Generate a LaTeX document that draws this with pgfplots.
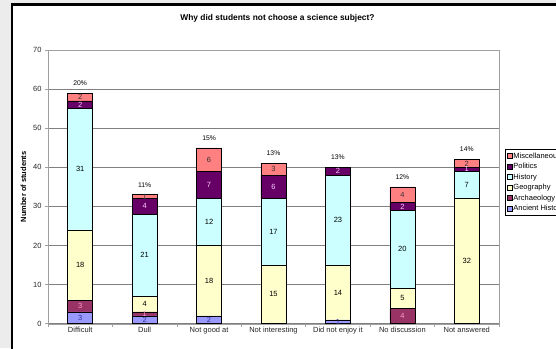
\documentclass[border=0pt]{standalone}
\usepackage{fontspec}
\setmainfont{Liberation Sans}
\usepackage{pgfplots}
\usepackage{pgfplotstable}
\pgfplotsset{compat=1.18}
\definecolor{cAnc}{HTML}{9999FF}
\definecolor{cArch}{HTML}{993366}
\definecolor{cGeo}{HTML}{FFFFCC}
\definecolor{cHist}{HTML}{CCFFFF}
\definecolor{cPol}{HTML}{660066}
\definecolor{cMisc}{HTML}{FF8080}
\definecolor{bgc}{HTML}{ECECEC}
\definecolor{gridc}{HTML}{808080}
\definecolor{axc}{HTML}{A0A0A0}
\definecolor{lAnc}{HTML}{333399}
\definecolor{lArch}{HTML}{FF99CC}
\definecolor{lPol}{HTML}{FFCCFF}
\newcommand\sm{\fontsize{7.5}{9}\selectfont}
\newcommand\tn{\fontsize{6.8}{8}\selectfont}

\pgfplotstableread{
x anc arch geo hist pol misc
0 3 3 18 31 2 2
1 2 1 4 21 4 1
2 2 0 18 12 7 6
3 0 0 15 17 6 3
4 1 0 14 23 2 0
5 0 4 5 20 2 4
6 0 0 32 7 1 2
}\data

\pgfplotsset{
  geom/.style={
    width=451pt, height=273.7pt, scale only axis,
    at={(48pt,24.3pt)}, anchor=south west,
    xmin=-0.5, xmax=6.5, ymin=0, ymax=70, clip=false,
  },
  lbl/.style={draw=none, mark=none, nodes near coords, point meta=explicit symbolic,
    nodes near coords style={anchor=center, font=\sm, text=#1}},
}

\begin{document}
\begin{tikzpicture}[x=1pt,y=1pt]
\clip (0,0) rectangle (556,348);
\fill[bgc] (0,0) rectangle (556,348);
\filldraw[fill=white,draw=black,line width=2.4pt] (12.2,-20) rectangle (600,343.5);
\node[font=\bfseries\fontsize{8.4}{10}\selectfont] at (277.5,330) {Why did students not choose a science subject?};

\begin{axis}[geom,
  ybar stacked, bar width=25pt,
  axis line style={axc},
  ytick={0,10,...,70},
  ymajorgrids, grid style={gridc, line width=0.6pt},
  xtick={-0.5,0.5,...,6.5}, xticklabels={},
  extra x ticks={0,1,2,3,4,5,6},
  extra x tick labels={Difficult,Dull,Not good at,Not interesting,Did not enjoy it,No discussion,Not answered},
  extra x tick style={major tick length=0pt, grid=none},
  xtick pos=bottom, ytick pos=left,
  tick align=outside, major tick length=3pt,
  tick style={axc, line width=0.6pt},
  tick label style={font=\sm, text=black!85},
  /pgf/number format/assume math mode=true,
  ylabel={\bfseries Number of students},
  ylabel style={font=\sm},
  reverse legend,
  legend style={at={(1.0133,0.6383)}, anchor=north west, draw=black, line width=0.5pt,
    font=\sm, inner sep=1.5pt, row sep=0pt,
    nodes={inner sep=1pt, text height=6.5pt, text depth=2pt}},
  legend cell align=left,
  legend image code/.code={\draw[#1, draw=black, line width=0.5pt] (0pt,-2.6pt) rectangle (5.2pt,2.6pt);},
]
\addplot[fill=cAnc, draw=black, line width=0.5pt] table[x=x,y=anc]{\data};
\addplot[fill=cArch, draw=black, line width=0.5pt] table[x=x,y=arch]{\data};
\addplot[fill=cGeo, draw=black, line width=0.5pt] table[x=x,y=geo]{\data};
\addplot[fill=cHist, draw=black, line width=0.5pt] table[x=x,y=hist]{\data};
\addplot[fill=cPol, draw=black, line width=0.5pt] table[x=x,y=pol]{\data};
\addplot[fill=cMisc, draw=black, line width=0.5pt] table[x=x,y=misc]{\data};
\legend{Ancient History,Archaeology,Geography,History,Politics,Miscellaneous}
\end{axis}

\begin{axis}[geom, hide axis]
\addplot[lbl=black] coordinates {(0,15)[18] (1,5)[4] (2,11)[18] (3,7.5)[15] (4,8)[14] (5,6.5)[5] (6,16)[32]};
\addplot[lbl=black] coordinates {(0,39.5)[31] (1,17.5)[21] (2,26)[12] (3,23.5)[17] (4,26.5)[23] (5,19)[20] (6,35.5)[7]};
\addplot[lbl=black!80] coordinates {(0,58)[2] (1,32.5)[1] (2,42)[6] (3,39.5)[3] (5,33)[4] (6,41)[2]};
\addplot[lbl=lAnc] coordinates {(0,1.5)[3] (1,1)[2] (2,1)[2] (4,0.5)[1]};
\addplot[lbl=lArch] coordinates {(0,4.5)[3] (1,2.5)[1] (5,2)[4]};
\addplot[lbl=lPol] coordinates {(0,56)[2] (1,30)[4] (2,35.5)[7] (3,35)[6] (4,39)[2] (5,30)[2] (6,39.5)[1]};
\addplot[draw=none, mark=none, nodes near coords, point meta=explicit symbolic,
  nodes near coords style={anchor=center, yshift=10pt, font=\tn, text=black}]
  coordinates {(0,59)[20\%] (1,33)[11\%] (2,45)[15\%] (3,41)[13\%] (4,40)[13\%] (5,35)[12\%] (6,42)[14\%]};
\end{axis}
\end{tikzpicture}
\end{document}
